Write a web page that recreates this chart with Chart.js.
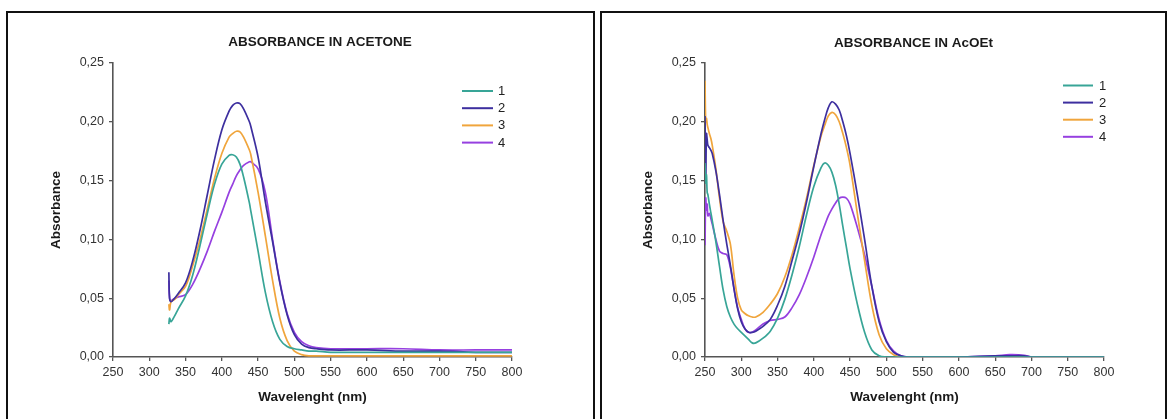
<!DOCTYPE html>
<html><head><meta charset="utf-8">
<script src="https://cdn.jsdelivr.net/npm/chart.js@4.4.1/dist/chart.umd.min.js"></script>
<style>
html,body{margin:0;padding:0;background:#fff;overflow:hidden;width:1173px;height:419px;}
.panel{position:absolute;top:11px;height:420px;border:2px solid #111;box-sizing:border-box;background:#fff;}
#p1{left:6px;width:589px;}
#p2{left:600px;width:567px;}
canvas{position:absolute;left:0;top:0;}
</style></head><body>
<div class="panel" id="p1"><canvas id="c1" width="585" height="406"></canvas></div>
<div class="panel" id="p2"><canvas id="c2" width="563" height="406"></canvas></div>
<script>
// ---------- data ----------
const seriesLabels = ['1', '2', '3', '4'];
const seriesColors = ['#38a597', '#3d2f9f', '#f0a53c', '#9640e0'];
const titleAcetone = 'ABSORBANCE IN ACETONE';
const titleAcoet = 'ABSORBANCE IN AcOEt';
const xAxisTitle = 'Wavelenght (nm)';
const yAxisTitle = 'Absorbance';
const xTickValues = [250, 300, 350, 400, 450, 500, 550, 600, 650, 700, 750, 800];
const xTickLabels = ['250', '300', '350', '400', '450', '500', '550', '600', '650', '700', '750', '800'];
const yTickValues = [0, 0.05, 0.10, 0.15, 0.20, 0.25];
const yTickLabels = ['0,00', '0,05', '0,10', '0,15', '0,20', '0,25'];

const acetoneWavelength = [327, 328, 330, 335, 340, 350, 360, 370, 380, 390, 400, 410, 415, 420, 425, 430, 438, 440, 450, 460, 470, 480, 490, 500, 510, 520, 530, 550, 600, 650, 700, 750, 800];
const acetone1 = [0.028, 0.033, 0.030, 0.035, 0.041, 0.052, 0.070, 0.095, 0.122, 0.147, 0.164, 0.1715, 0.172, 0.170, 0.164, 0.153, 0.131, 0.124, 0.090, 0.055, 0.030, 0.015, 0.009, 0.007, 0.006, 0.005, 0.005, 0.004, 0.004, 0.004, 0.004, 0.004, 0.004];
const acetone2 = [0.072, 0.050, 0.047, 0.050, 0.054, 0.063, 0.082, 0.108, 0.138, 0.168, 0.193, 0.209, 0.214, 0.216, 0.2155, 0.211, 0.200, 0.196, 0.170, 0.132, 0.098, 0.063, 0.036, 0.019, 0.011, 0.008, 0.007, 0.006, 0.006, 0.005, 0.005, 0.004, 0.004];
const acetone3 = [0.045, 0.040, 0.047, 0.049, 0.053, 0.060, 0.078, 0.100, 0.126, 0.152, 0.173, 0.187, 0.190, 0.192, 0.1915, 0.187, 0.176, 0.172, 0.140, 0.103, 0.065, 0.033, 0.014, 0.005, 0.002, 0.001, 0.001, 0.001, 0.001, 0.001, 0.001, 0.001, 0.001];
const acetone4 = [0.065, 0.050, 0.048, 0.050, 0.051, 0.053, 0.062, 0.075, 0.090, 0.107, 0.123, 0.140, 0.147, 0.154, 0.159, 0.163, 0.166, 0.166, 0.160, 0.140, 0.100, 0.064, 0.037, 0.021, 0.013, 0.0095, 0.008, 0.007, 0.007, 0.007, 0.006, 0.006, 0.006];

const acoetWavelength = [250, 251, 252, 253, 254, 256, 258, 260, 265, 270, 275, 280, 285, 290, 295, 300, 305, 310, 315, 320, 330, 340, 350, 360, 370, 380, 390, 400, 410, 415, 420, 425, 430, 435, 440, 445, 450, 460, 470, 480, 490, 500, 510, 520, 530, 550, 600, 650, 670, 690, 700, 750, 800];
const acoet1 = [0.165, 0.148, 0.155, 0.140, 0.138, 0.130, 0.123, 0.116, 0.098, 0.077, 0.057, 0.043, 0.034, 0.028, 0.024, 0.021, 0.018, 0.015, 0.012, 0.012, 0.016, 0.022, 0.033, 0.049, 0.070, 0.094, 0.121, 0.145, 0.161, 0.165, 0.163, 0.157, 0.146, 0.130, 0.111, 0.093, 0.075, 0.045, 0.021, 0.006, 0.001, 0, 0, 0, 0, 0, 0, 0, 0, 0, 0, 0, 0];
const acoet2 = [0.205, 0.150, 0.190, 0.185, 0.180, 0.178, 0.176, 0.173, 0.158, 0.138, 0.116, 0.096, 0.078, 0.058, 0.041, 0.030, 0.024, 0.021, 0.021, 0.022, 0.026, 0.032, 0.044, 0.060, 0.082, 0.105, 0.132, 0.162, 0.190, 0.202, 0.212, 0.217, 0.215, 0.210, 0.200, 0.188, 0.173, 0.138, 0.100, 0.060, 0.030, 0.013, 0.004, 0.001, 0, 0, 0, 0.001, 0.001, 0.001, 0, 0, 0];
const acoet3 = [0.235, 0.200, 0.203, 0.198, 0.195, 0.190, 0.186, 0.180, 0.160, 0.135, 0.115, 0.107, 0.096, 0.070, 0.050, 0.040, 0.037, 0.035, 0.034, 0.034, 0.038, 0.045, 0.054, 0.068, 0.087, 0.110, 0.135, 0.163, 0.188, 0.197, 0.205, 0.208, 0.206, 0.200, 0.190, 0.178, 0.163, 0.122, 0.082, 0.044, 0.019, 0.007, 0.002, 0, 0, 0, 0, 0, 0, 0, 0, 0, 0];
const acoet4 = [0.095, 0.135, 0.125, 0.130, 0.120, 0.122, 0.118, 0.113, 0.100, 0.090, 0.088, 0.087, 0.076, 0.058, 0.042, 0.032, 0.024, 0.021, 0.021, 0.023, 0.028, 0.031, 0.032, 0.034, 0.042, 0.053, 0.068, 0.085, 0.104, 0.112, 0.120, 0.126, 0.131, 0.135, 0.136, 0.135, 0.130, 0.110, 0.087, 0.060, 0.032, 0.014, 0.005, 0.001, 0, 0, 0, 0.001, 0.002, 0.0015, 0, 0, 0];

// ---------- chart construction ----------
const FONT = '"Liberation Sans", Arial, Helvetica, sans-serif';

const panelDecor = {
  id: 'panelDecor',
  afterDraw(chart, args, o) {
    const ctx = chart.ctx;
    ctx.save();
    ctx.fillStyle = '#1a1a1a';
    ctx.font = 'bold 13.5px ' + FONT;
    ctx.textAlign = 'center';
    ctx.textBaseline = 'middle';
    ctx.fillText(o.title, o.titleX, o.titleY);
    ctx.font = '13px ' + FONT;
    ctx.textAlign = 'left';
    chart.data.datasets.forEach((ds, i) => {
      const y = o.legendY0 + i * o.legendStep;
      ctx.strokeStyle = ds.borderColor;
      ctx.lineWidth = 2;
      ctx.beginPath();
      ctx.moveTo(o.legendX1, y);
      ctx.lineTo(o.legendX2, y);
      ctx.stroke();
      ctx.fillStyle = '#222';
      ctx.fillText(ds.label, o.legendTextX, y + 0.5);
    });
    ctx.restore();
  }
};

function makeChart(canvasId, wl, seriesList, decor, geo) {
  const datasets = seriesList.map((vals, i) => ({
    label: seriesLabels[i],
    data: wl.map((w, j) => ({x: w, y: vals[j]})),
    borderColor: seriesColors[i],
    backgroundColor: seriesColors[i],
    borderWidth: 1.7,
    pointRadius: 0,
    fill: false,
    tension: 0.35
  }));
  return new Chart(document.getElementById(canvasId), {
    type: 'line',
    data: {datasets},
    plugins: [panelDecor],
    options: {
      responsive: false,
      animation: false,
      layout: {padding: {left: 0, right: geo.padRight, top: geo.padTop, bottom: 0}},
      plugins: {
        legend: {display: false},
        title: {display: false},
        tooltip: {enabled: false},
        panelDecor: decor
      },
      scales: {
        x: {
          type: 'linear',
          min: 250, max: 800,
          afterBuildTicks: s => { s.ticks = xTickValues.map(v => ({value: v})); },
          afterFit: s => { s.height = geo.xHeight; },
          ticks: {
            callback: (v, i) => xTickLabels[i],
            font: {family: FONT, size: 12.5},
            color: '#333',
            padding: 4,
            maxRotation: 0,
            autoSkip: false
          },
          grid: {drawOnChartArea: false, drawTicks: true, tickLength: 4, color: '#555', lineWidth: 1.3},
          border: {display: true, color: '#555', width: 1.6},
          title: {
            display: true, text: xAxisTitle,
            font: {family: FONT, size: 13.5, weight: 'bold'},
            color: '#1a1a1a',
            padding: {top: 0, bottom: 14}
          }
        },
        y: {
          type: 'linear',
          min: 0, max: 0.25,
          afterBuildTicks: s => { s.ticks = yTickValues.map(v => ({value: v})); },
          afterFit: s => { s.width = geo.yWidth; },
          ticks: {
            callback: (v, i) => yTickLabels[i],
            font: {family: FONT, size: 12.5},
            color: '#333',
            padding: 5,
            autoSkip: false
          },
          grid: {drawOnChartArea: false, drawTicks: true, tickLength: 4, color: '#555', lineWidth: 1.3},
          border: {display: true, color: '#555', width: 1.6},
          title: {
            display: true, text: yAxisTitle,
            font: {family: FONT, size: 13.5, weight: 'bold'},
            color: '#1a1a1a',
            padding: {top: geo.yTitlePad, bottom: 0}
          }
        }
      }
    }
  });
}

makeChart('c1', acetoneWavelength, [acetone1, acetone2, acetone3, acetone4],
  {title: titleAcetone, titleX: 312, titleY: 29, legendX1: 454, legendX2: 485, legendTextX: 490, legendY0: 78, legendStep: 17.2},
  {padRight: 81, padTop: 50, xHeight: 62, yWidth: 105, yTitlePad: 40});

makeChart('c2', acoetWavelength, [acoet1, acoet2, acoet3, acoet4],
  {title: titleAcoet, titleX: 311.5, titleY: 30.5, legendX1: 461, legendX2: 491, legendTextX: 497, legendY0: 72.5, legendStep: 17.1},
  {padRight: 61, padTop: 50, xHeight: 62, yWidth: 103, yTitlePad: 38.5});
</script>
</body></html>
